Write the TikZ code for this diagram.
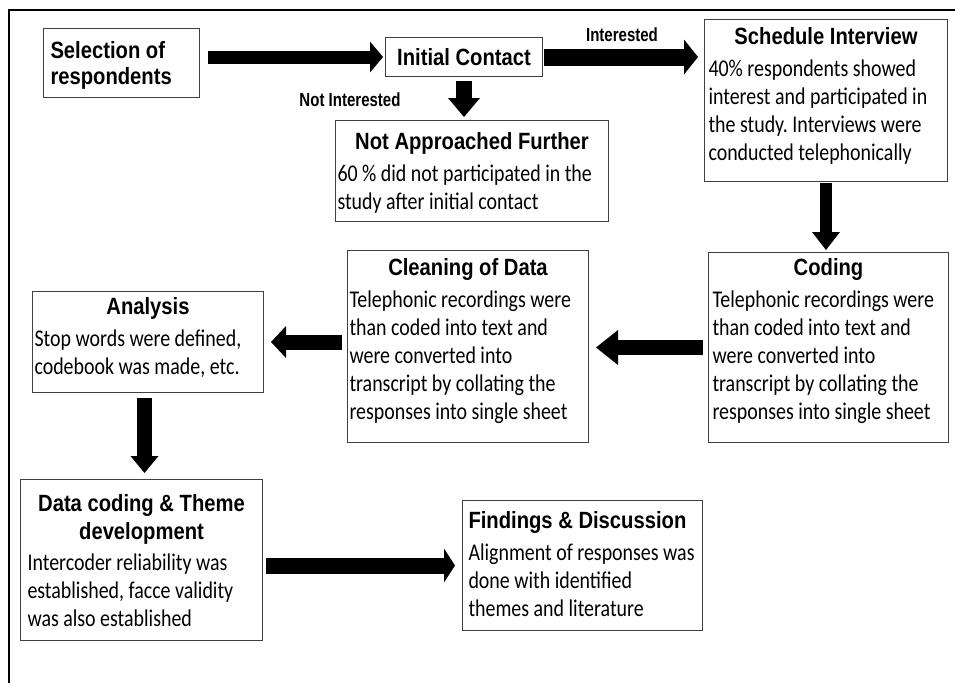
\documentclass[tikz,border=0pt]{standalone}
\usepackage{fontspec}
\setmainfont{Carlito}[FakeStretch=0.83]
\newfontfamily\ttlfont{Liberation Sans}[FakeStretch=0.86]
\usetikzlibrary{arrows.meta}
\frenchspacing

% type sizes: headings, body text, arrow labels
\newcommand\ttl{\ttlfont\bfseries\fontsize{23.5}{28}\selectfont}
\newcommand\bdy{\fontsize{24}{28}\selectfont}
\newcommand\lbl{\ttlfont\bfseries\fontsize{19}{22}\selectfont}

% text block of a box: width, height, top padding, content
\newcommand\cellbody[4]{\parbox[c][#2pt][t]{#1pt}{\vspace*{#3pt}#4}}
\newcommand\ctitle[1]{{\centering\ttl #1\par}\vspace{4pt}}
\newcommand\ltitle[1]{{\raggedright\ttl #1\par}\vspace{4pt}}
\newcommand\tline[1]{\mbox{#1}\par}

\tikzset{
  cell/.style={draw=black!75, line width=1pt, anchor=north west, inner ysep=0pt, font=\bdy},
  fat/.style n args={3}{line width=#1, -{Triangle[width=#2, length=#3, line width=0pt]}},
  edgelabel/.style={font=\lbl, inner sep=0pt, xscale=0.92, transform shape},
  outline/.style={line width=2pt},
}

\begin{document}
\begin{tikzpicture}[x=1pt, y=-1pt]
\useasboundingbox (0,0) rectangle (955,683);

% outer frame
\draw[outline] (955,10) -- (9,10) -- (9,683);

% process boxes
\node[cell, inner xsep=7pt] (sel) at (43,28)
  {\cellbody{142}{69}{13}{\raggedright\ttl\fontsize{23.5}{26}\selectfont Selection of\\respondents}};
\node[cell, inner xsep=4pt] (init) at (385,37)
  {\cellbody{149}{39}{11}{\centering\ttl Initial Contact}};
\node[cell, inner xsep=2pt] (notapp) at (335,120)
  {\cellbody{269}{101}{12}{\ctitle{Not Approached Further}%
    \tline{60 \% did not participated in the}%
    \tline{study after initial contact}}};
\node[cell, inner xsep=4pt] (sched) at (704,19)
  {\cellbody{235}{162}{8}{\ctitle{Schedule Interview}%
    \tline{40\% respondents showed}%
    \tline{interest and participated in}%
    \tline{the study. Interviews were}%
    \tline{conducted telephonically}}};
\node[cell, inner xsep=4pt] (coding) at (708,252)
  {\cellbody{232}{190}{6}{\ctitle{Coding}%
    \tline{Telephonic recordings were}%
    \tline{than coded into text and}%
    \tline{were converted into}%
    \tline{transcript by collating the}%
    \tline{responses into single sheet}}};
\node[cell, inner xsep=2pt] (clean) at (347,250)
  {\cellbody{237}{192}{8}{\ctitle{Cleaning of Data}%
    \tline{Telephonic recordings were}%
    \tline{than coded into text and}%
    \tline{were converted into}%
    \tline{transcript by collating the}%
    \tline{responses into single sheet}}};
\node[cell, inner xsep=2pt] (analysis) at (32,291)
  {\cellbody{227}{101}{6}{\ctitle{Analysis}%
    \tline{Stop words were defined,}%
    \tline{codebook was made, etc.}}};
\node[cell, inner xsep=7pt] (datacod) at (20,479)
  {\cellbody{228}{161}{15}{{\centering\ttl\fontsize{23.5}{28}\selectfont Data coding \& Theme\\development\par}\vspace{3pt}%
    \tline{Intercoder reliability was}%
    \tline{established, facce validity}%
    \tline{was also established}}};
\node[cell, inner xsep=6pt] (findings) at (462,500)
  {\cellbody{228}{130}{11}{\ltitle{Findings \& Discussion}%
    \tline{Alignment of responses was}%
    \tline{done with identified}%
    \tline{themes and literature}}};

% arrow labels
\node[edgelabel] (lint) at (622,35) {Interested};
\node[edgelabel] (lnot) at (350,100) {Not Interested};

% block arrows
\draw[fat={13pt}{31pt}{13pt}, shorten <=8pt, shorten >=2pt] (sel.east |- init.west) -- (init.west);
\draw[fat={17pt}{35pt}{14pt}, shorten <=1pt, shorten >=6pt] (init.east) -- (init.east -| sched.west);
\draw[fat={16pt}{32pt}{19pt}, shorten <=4pt, shorten >=3pt] (init.south) -- (init.south |- notapp.north);
\draw[fat={12pt}{28pt}{18pt}, shorten <=1pt, shorten >=2pt] (sched.south) -- (sched.south |- coding.north);
\draw[fat={15pt}{35pt}{22pt}, shorten <=5pt, shorten >=7pt] (coding.west) -- (coding.west -| clean.east);
\draw[fat={15pt}{32pt}{15pt}, shorten <=5pt, shorten >=7pt] (analysis.east -| clean.west) -- (analysis.east);
\coordinate (adown) at ([xshift=-3.5pt]analysis.south);
\draw[fat={15pt}{28pt}{17pt}, shorten <=5pt, shorten >=6pt] (adown) -- (adown |- datacod.north);
\draw[fat={16pt}{34pt}{11pt}, shorten <=3pt, shorten >=7pt] (datacod.east |- findings.west) -- (findings.west);
\end{tikzpicture}
\end{document}
